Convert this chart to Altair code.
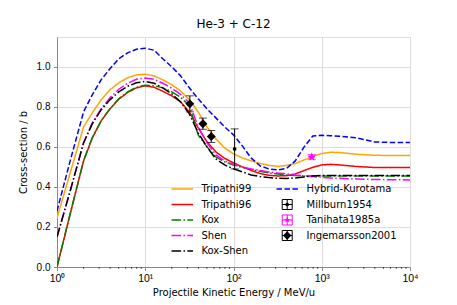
import altair as alt
import pandas as pd

# ---------------- data ----------------
energy = [1, 1.41, 2, 2.51, 3.16, 3.98, 5.01, 6.31, 7.94, 10, 12.6, 15.8, 20, 25.1,
          31.6, 39.8, 50.1, 63.1, 79.4, 100, 126, 158, 200, 251, 316, 398, 501, 631,
          794, 1000, 1259, 1585, 2512, 3981, 6310, 10000]

tripathi99 = [0.245, 0.47, 0.70, 0.77, 0.835, 0.885, 0.92, 0.945, 0.96, 0.963, 0.955, 0.935,
              0.91, 0.88, 0.835, 0.775, 0.70, 0.64, 0.595, 0.565, 0.545, 0.53, 0.517, 0.508,
              0.503, 0.507, 0.517, 0.535, 0.553, 0.567, 0.573, 0.572, 0.563, 0.558, 0.557, 0.557]
tripathi96 = [0.0, 0.265, 0.53, 0.645, 0.73, 0.79, 0.838, 0.872, 0.895, 0.905, 0.898, 0.878,
              0.855, 0.825, 0.775, 0.695, 0.625, 0.575, 0.543, 0.52, 0.50, 0.483, 0.467, 0.458,
              0.455, 0.456, 0.465, 0.482, 0.498, 0.51, 0.513, 0.51, 0.502, 0.497, 0.497, 0.497]
kox = [0.0, 0.265, 0.53, 0.645, 0.73, 0.79, 0.84, 0.875, 0.898, 0.908, 0.906, 0.895,
       0.875, 0.848, 0.805, 0.66, 0.60, 0.55, 0.525, 0.51, 0.497, 0.488, 0.478, 0.47,
       0.465, 0.46, 0.457, 0.455, 0.455, 0.455, 0.455, 0.455, 0.455, 0.455, 0.455, 0.455]
shen = [0.15, 0.38, 0.62, 0.72, 0.79, 0.845, 0.888, 0.918, 0.938, 0.944, 0.938, 0.918,
        0.893, 0.862, 0.82, 0.70, 0.62, 0.56, 0.53, 0.513, 0.50, 0.49, 0.482, 0.475,
        0.47, 0.465, 0.46, 0.455, 0.452, 0.448, 0.445, 0.443, 0.44, 0.437, 0.436, 0.435]
kox_shen = [0.15, 0.38, 0.62, 0.715, 0.785, 0.835, 0.875, 0.903, 0.92, 0.927, 0.918, 0.895,
            0.865, 0.825, 0.765, 0.67, 0.60, 0.54, 0.51, 0.49, 0.475, 0.46, 0.452, 0.447,
            0.443, 0.442, 0.445, 0.45, 0.455, 0.457, 0.457, 0.457, 0.457, 0.457, 0.457, 0.457]
hybrid = [0.28, 0.53, 0.775, 0.86, 0.935, 0.99, 1.04, 1.07, 1.088, 1.093, 1.083, 1.04,
          1.0, 0.955, 0.895, 0.84, 0.79, 0.745, 0.70, 0.66, 0.605, 0.545, 0.505, 0.49,
          0.485, 0.492, 0.53, 0.60, 0.655, 0.658, 0.656, 0.653, 0.645, 0.625, 0.622, 0.622]

millburn_e = [103]
millburn_xs = [0.59]
millburn_err = [0.10]

tanihata_e = [770]
tanihata_xs = [0.55]
tanihata_err = [0.012]
tanihata_eerr = [65]

ingemarsson_e = [32, 45, 56]
ingemarsson_xs = [0.815, 0.716, 0.652]
ingemarsson_err = [0.04, 0.028, 0.03]

x_ticks = [1, 10, 100, 1000, 10000]
x_tick_labels = ["10⁰", "10¹", "10²", "10³", "10⁴"]
minor_ticks = [k * 10 ** d for d in range(4) for k in range(2, 10)]
y_ticks = [0.0, 0.2, 0.4, 0.6, 0.8, 1.0]

series = [
    ("Tripathi99", tripathi99),
    ("Tripathi96", tripathi96),
    ("Kox", kox),
    ("Shen", shen),
    ("Kox-Shen", kox_shen),
    ("Hybrid-Kurotama", hybrid),
]

# ---------------- styles ----------------
FONT = "DejaVu Sans"
W, H = 353, 230
SOLID = [1, 0]
DASHDOT = [9.6, 2.4, 1.5, 2.4]
DASHED = [5.55, 2.4]
styles = {
    "Tripathi99": ("#ffa500", SOLID),
    "Tripathi96": ("#ff0000", SOLID),
    "Kox": ("#008000", DASHDOT),
    "Shen": ("#ff00ff", DASHDOT),
    "Kox-Shen": ("#000000", DASHDOT),
    "Hybrid-Kurotama": ("#0000ff", DASHED),
}
STAR = ("M0,-1L0.2245,-0.309L0.951,-0.309L0.363,0.118L0.588,0.809L0,0.382"
        "L-0.588,0.809L-0.363,0.118L-0.951,-0.309L-0.2245,-0.309Z")

label_expr = " : ".join(
    f"datum.value == {v} ? '{t}'" for v, t in zip(x_ticks, x_tick_labels)
) + " : ''"

xscale = alt.Scale(type="log", domain=[1, 10000], nice=False)
yscale = alt.Scale(domain=[0, 1.149], nice=False, zero=False)
xaxis = alt.Axis(values=x_ticks, labelExpr=label_expr, tickSize=3.5, labelPadding=3,
                 titlePadding=3, title="Projectile Kinetic Energy / MeV/u", labelFlush=False,
                 titleFontWeight="normal", titleFont=FONT, titleFontSize=10,
                 labelFontSize=10.5)
yaxis = alt.Axis(values=y_ticks, format=".1f", tickSize=3.5, labelPadding=3.5,
                 titlePadding=8, title="Cross-section / b",
                 titleFontWeight="normal", titleFont=FONT, titleFontSize=10)


def X(field):
    return alt.X(field, type="quantitative", scale=xscale, axis=xaxis)


def Y(field):
    return alt.Y(field, type="quantitative", scale=yscale, axis=yaxis)


layers = []

# minor ticks on the x axis
minor_df = pd.DataFrame({"e": minor_ticks})
layers.append(
    alt.Chart(minor_df).mark_rule(color="black", strokeWidth=0.6).encode(
        x=X("e"), y=alt.value(H), y2=alt.value(H + 2)
    )
)

# model curves
for name, vals in series:
    col, dash = styles[name]
    df = pd.DataFrame({"e": energy, "xs": vals})
    layers.append(
        alt.Chart(df).mark_line(color=col, strokeDash=dash, strokeWidth=1.5, clip=True).encode(
            x=X("e"), y=Y("xs")
        )
    )


def errorbars(e, xs, err, color, shape, size, filled=True, eerr=None):
    df = pd.DataFrame({"e": e, "xs": xs,
                       "lo": [a - b for a, b in zip(xs, err)],
                       "hi": [a + b for a, b in zip(xs, err)]})
    out = [
        alt.Chart(df).mark_rule(color=color, strokeWidth=1).encode(x=X("e"), y=Y("lo"), y2="hi"),
        alt.Chart(df).mark_tick(color=color, orient="horizontal", size=8, thickness=1).encode(
            x=X("e"), y=Y("hi")),
        alt.Chart(df).mark_tick(color=color, orient="horizontal", size=8, thickness=1).encode(
            x=X("e"), y=Y("lo")),
    ]
    if eerr is not None:
        df["elo"] = [a - b for a, b in zip(e, eerr)]
        df["ehi"] = [a + b for a, b in zip(e, eerr)]
        out.append(alt.Chart(df).mark_rule(color=color, strokeWidth=1).encode(
            x=X("elo"), x2="ehi", y=Y("xs")))
    out.append(
        alt.Chart(df).mark_point(color=color, shape=shape, size=size, filled=filled,
                                 opacity=1, strokeWidth=0).encode(x=X("e"), y=Y("xs"))
    )
    return out


layers += errorbars(millburn_e, millburn_xs, millburn_err, "black", "circle", 14)
layers += errorbars(tanihata_e, tanihata_xs, tanihata_err, "#ff00ff", STAR, 90,
                    eerr=tanihata_eerr)
layers += errorbars(ingemarsson_e, ingemarsson_xs, ingemarsson_err, "black", "diamond", 80)

# ---------------- manual legend (matplotlib-style, 2 columns) ----------------
one = pd.DataFrame({"a": [0]})
row_y = [152 + 15.5 * i for i in range(5)]
col1_line = (114.5, 136)
col1_text = 144.5
col2_line = (219.5, 241)
col2_text = 249.5
col2_sym = 230.2

line_entries = [("Tripathi99", 0, 0), ("Tripathi96", 0, 1), ("Kox", 0, 2), ("Shen", 0, 3),
                ("Kox-Shen", 0, 4), ("Hybrid-Kurotama", 1, 0)]
for name, c, r in line_entries:
    col, dash = styles[name]
    x0, x1 = col1_line if c == 0 else col2_line
    tx = col1_text if c == 0 else col2_text
    y = row_y[r]
    layers.append(alt.Chart(one).mark_rule(color=col, strokeDash=dash, strokeWidth=1.5).encode(
        x=alt.value(x0), x2=alt.value(x1), y=alt.value(y)))
    layers.append(alt.Chart(one).mark_text(text=name, align="left", baseline="middle",
                                           font=FONT, fontSize=10, color="black").encode(
        x=alt.value(tx), y=alt.value(y)))

point_entries = [("Millburn1954", 1, "black", "circle", 14),
                 ("Tanihata1985a", 2, "#ff00ff", STAR, 50),
                 ("Ingemarsson2001", 3, "black", "diamond", 70)]
hs = 5
for name, r, col, shape, size in point_entries:
    cx, cy = col2_sym, row_y[r]
    segs = [
        (cx, cx, cy - hs, cy + hs), (cx - hs, cx + hs, cy, cy),
        (cx - hs, cx + hs, cy - hs, cy - hs), (cx - hs, cx + hs, cy + hs, cy + hs),
        (cx - hs, cx - hs, cy - hs, cy + hs), (cx + hs, cx + hs, cy - hs, cy + hs),
    ]
    for xa, xb, ya, yb in segs:
        layers.append(alt.Chart(one).mark_rule(color=col, strokeWidth=1).encode(
            x=alt.value(xa), x2=alt.value(xb), y=alt.value(ya), y2=alt.value(yb)))
    layers.append(alt.Chart(one).mark_point(color=col, shape=shape, size=size, filled=True,
                                            opacity=1, strokeWidth=0).encode(
        x=alt.value(cx), y=alt.value(cy)))
    layers.append(alt.Chart(one).mark_text(text=name, align="left", baseline="middle",
                                           font=FONT, fontSize=10, color="black").encode(
        x=alt.value(col2_text), y=alt.value(cy)))

chart = alt.layer(*layers).properties(
    width=W, height=H,
    title=alt.TitleParams("He-3 + C-12", font=FONT, fontSize=12, fontWeight="normal",
                          color="black", offset=6),
    autosize=alt.AutoSizeParams(type="none"),
    padding={"left": 49, "top": 29, "right": 39, "bottom": 36},
).configure_view(
    stroke="black", strokeWidth=0.8
).configure_axis(
    grid=False, domainColor="black", tickColor="black", labelColor="black",
    titleColor="black", labelFont=FONT, titleFont=FONT, labelFontSize=10,
    titleFontSize=10, titleFontWeight="normal", tickWidth=0.8, domainWidth=0.8,
).configure(background="white")

chart.save("out.html", embed_options={"renderer": "svg", "actions": False})
